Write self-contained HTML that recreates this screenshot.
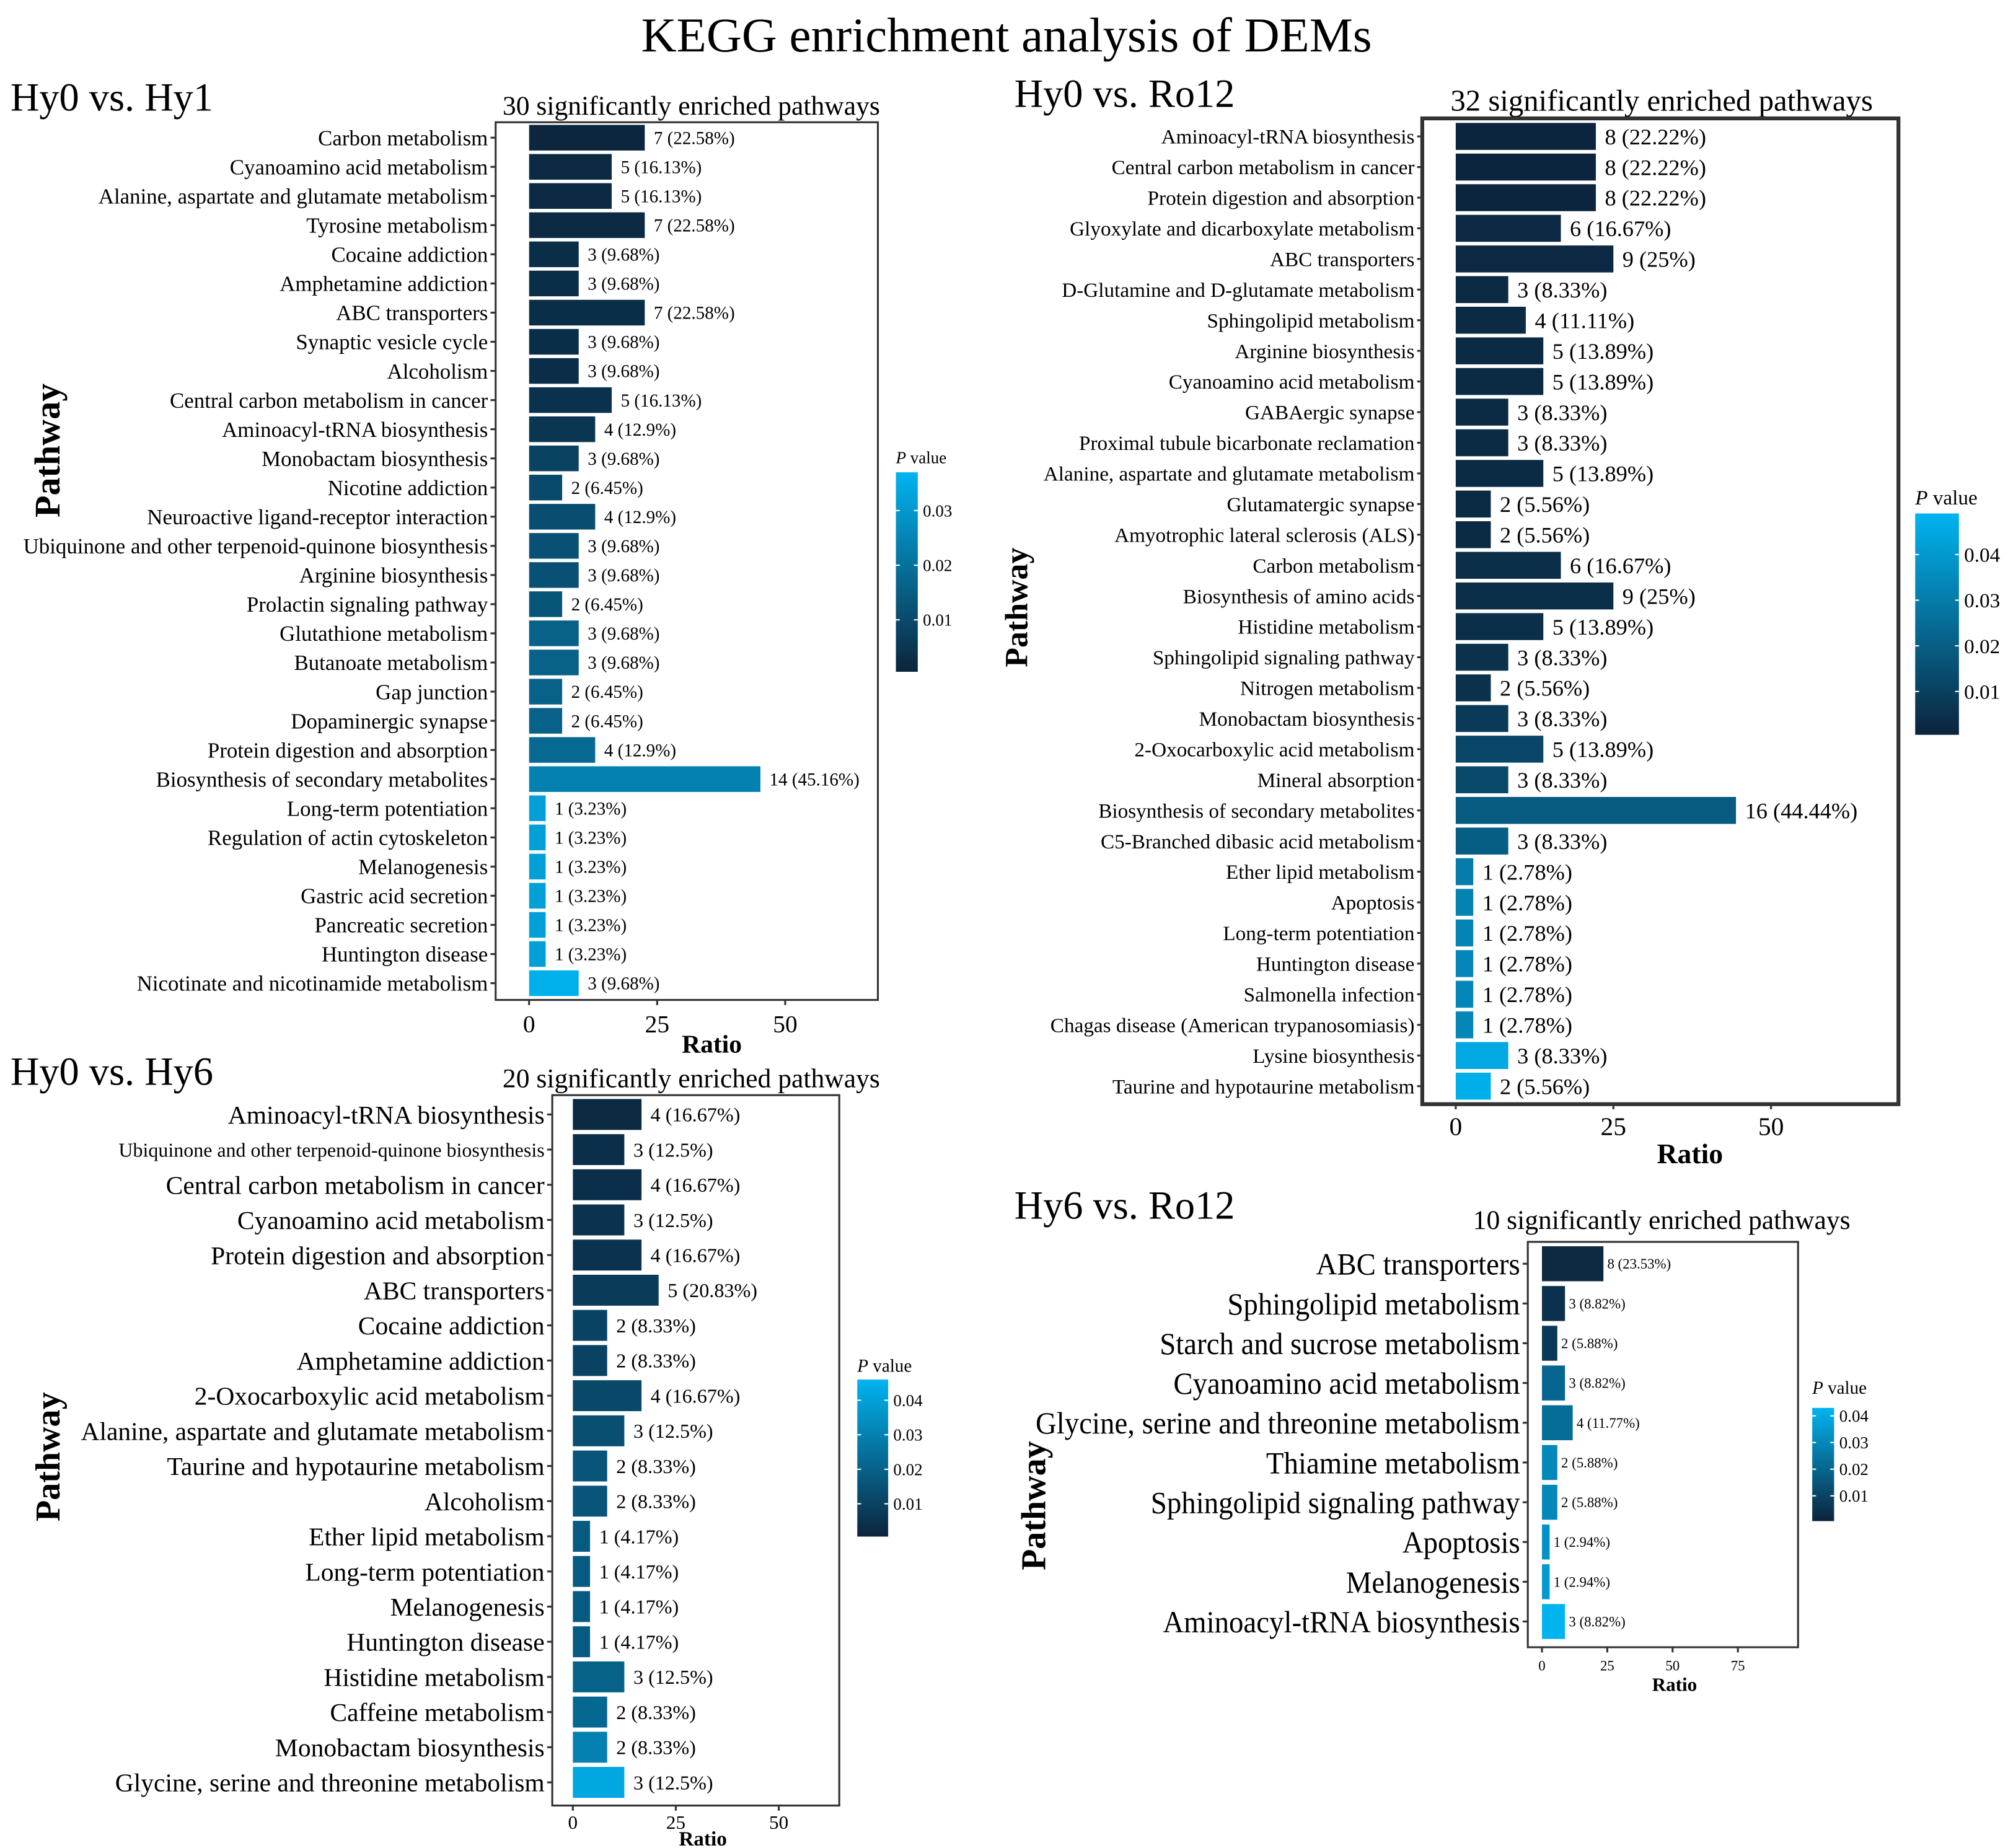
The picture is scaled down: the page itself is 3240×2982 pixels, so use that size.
<!DOCTYPE html>
<html><head><meta charset="utf-8"><style>
body{margin:0;background:#fff}
svg{display:block;font-family:"Liberation Serif",serif}
</style></head><body>
<svg id="fig" width="3240" height="2982" viewBox="0 0 1560 1436" xmlns="http://www.w3.org/2000/svg">
<rect width="1560" height="1436" fill="#fff"/>
<text x="782" y="40" font-size="38" text-anchor="middle">KEGG enrichment analysis of DEMs</text>
</svg>
<script>
const p1Labels=["Carbon metabolism","Cyanoamino acid metabolism","Alanine, aspartate and glutamate metabolism","Tyrosine metabolism","Cocaine addiction","Amphetamine addiction","ABC transporters","Synaptic vesicle cycle","Alcoholism","Central carbon metabolism in cancer","Aminoacyl-tRNA biosynthesis","Monobactam biosynthesis","Nicotine addiction","Neuroactive ligand-receptor interaction","Ubiquinone and other terpenoid-quinone biosynthesis","Arginine biosynthesis","Prolactin signaling pathway","Glutathione metabolism","Butanoate metabolism","Gap junction","Dopaminergic synapse","Protein digestion and absorption","Biosynthesis of secondary metabolites","Long-term potentiation","Regulation of actin cytoskeleton","Melanogenesis","Gastric acid secretion","Pancreatic secretion","Huntington disease","Nicotinate and nicotinamide metabolism"];
const p1Counts=[7,5,5,7,3,3,7,3,3,5,4,3,2,4,3,3,2,3,3,2,2,4,14,1,1,1,1,1,1,3];
const p1Ratios=[22.58,16.13,16.13,22.58,9.68,9.68,22.58,9.68,9.68,16.13,12.9,9.68,6.45,12.9,9.68,9.68,6.45,9.68,9.68,6.45,6.45,12.9,45.16,3.23,3.23,3.23,3.23,3.23,3.23,9.68];
const p1P=[0.001,0.002,0.002,0.002,0.003,0.003,0.003,0.003,0.003,0.004,0.005,0.008,0.010,0.011,0.012,0.012,0.013,0.016,0.016,0.016,0.016,0.018,0.024,0.032,0.032,0.032,0.032,0.032,0.032,0.036];
const p1Ticks=[0,25,50];
const p1Legend=[0.01,0.02,0.03];

const p2Labels=["Aminoacyl-tRNA biosynthesis","Central carbon metabolism in cancer","Protein digestion and absorption","Glyoxylate and dicarboxylate metabolism","ABC transporters","D-Glutamine and D-glutamate metabolism","Sphingolipid metabolism","Arginine biosynthesis","Cyanoamino acid metabolism","GABAergic synapse","Proximal tubule bicarbonate reclamation","Alanine, aspartate and glutamate metabolism","Glutamatergic synapse","Amyotrophic lateral sclerosis (ALS)","Carbon metabolism","Biosynthesis of amino acids","Histidine metabolism","Sphingolipid signaling pathway","Nitrogen metabolism","Monobactam biosynthesis","2-Oxocarboxylic acid metabolism","Mineral absorption","Biosynthesis of secondary metabolites","C5-Branched dibasic acid metabolism","Ether lipid metabolism","Apoptosis","Long-term potentiation","Huntington disease","Salmonella infection","Chagas disease (American trypanosomiasis)","Lysine biosynthesis","Taurine and hypotaurine metabolism"];
const p2Counts=[8,8,8,6,9,3,4,5,5,3,3,5,2,2,6,9,5,3,2,3,5,3,16,3,1,1,1,1,1,1,3,2];
const p2Ratios=[22.22,22.22,22.22,16.67,25,8.33,11.11,13.89,13.89,8.33,8.33,13.89,5.56,5.56,16.67,25,13.89,8.33,5.56,8.33,13.89,8.33,44.44,8.33,2.78,2.78,2.78,2.78,2.78,2.78,8.33,5.56];
const p2P=[0.001,0.001,0.001,0.002,0.002,0.003,0.003,0.003,0.003,0.003,0.003,0.003,0.003,0.003,0.004,0.004,0.004,0.005,0.005,0.008,0.012,0.013,0.019,0.020,0.030,0.032,0.033,0.034,0.034,0.034,0.045,0.047];
const p2Ticks=[0,25,50];
const p2Legend=[0.01,0.02,0.03,0.04];

const p3Labels=["Aminoacyl-tRNA biosynthesis","Ubiquinone and other terpenoid-quinone biosynthesis","Central carbon metabolism in cancer","Cyanoamino acid metabolism","Protein digestion and absorption","ABC transporters","Cocaine addiction","Amphetamine addiction","2-Oxocarboxylic acid metabolism","Alanine, aspartate and glutamate metabolism","Taurine and hypotaurine metabolism","Alcoholism","Ether lipid metabolism","Long-term potentiation","Melanogenesis","Huntington  disease","Histidine metabolism","Caffeine metabolism","Monobactam biosynthesis","Glycine, serine and threonine metabolism"];
const p3Counts=[4,3,4,3,4,5,2,2,4,3,2,2,1,1,1,1,3,2,2,3];
const p3Ratios=[16.67,12.5,16.67,12.5,16.67,20.83,8.33,8.33,16.67,12.5,8.33,8.33,4.17,4.17,4.17,4.17,12.5,8.33,8.33,12.5];
const p3P=[0.002,0.004,0.004,0.005,0.005,0.008,0.010,0.010,0.012,0.014,0.016,0.016,0.018,0.018,0.018,0.018,0.020,0.022,0.030,0.042];
const p3Ticks=[0,25,50];
const p3Legend=[0.01,0.02,0.03,0.04];

const p4Labels=["ABC transporters","Sphingolipid metabolism","Starch and sucrose metabolism","Cyanoamino acid metabolism","Glycine, serine and threonine metabolism","Thiamine metabolism","Sphingolipid signaling pathway","Apoptosis","Melanogenesis","Aminoacyl-tRNA biosynthesis"];
const p4Counts=[8,3,2,3,4,2,2,1,1,3];
const p4Ratios=[23.53,8.82,5.88,8.82,11.77,5.88,5.88,2.94,2.94,8.82];
const p4P=[0.002,0.004,0.007,0.020,0.022,0.030,0.030,0.033,0.035,0.043];
const p4Ticks=[0,25,50,75];
const p4Legend=[0.01,0.02,0.03,0.04];

const NS="http://www.w3.org/2000/svg";
const svg=document.getElementById('fig');
function mk(tag,attrs,parent,text){const e=document.createElementNS(NS,tag);for(const k in attrs)e.setAttribute(k,attrs[k]);if(text!==undefined)e.textContent=text;(parent||svg).appendChild(e);return e;}
const LOW=[12,36,60],HIGH=[0,180,240];
function col(p,pmin,pmax){let t=(p-pmin)/(pmax-pmin);t=Math.max(0,Math.min(1,t));const c=LOW.map((v,i)=>Math.round(v+(HIGH[i]-v)*t));return `rgb(${c[0]},${c[1]},${c[2]})`;}

function panel(c){
  const g=mk('g',{});
  
  
  const t=mk('text',{x:c.titleX,y:c.titleY,'font-size':31},g,c.title);
  
  
  const st=mk('text',{x:c.subX,y:c.subY,'font-size':c.subSize,'text-anchor':'middle'},g,c.sub);
  
  
  const xs=v=>c.x0+v*c.kx;
  const n=c.labels.length;
  const ys=i=>c.yFirst+i*(c.yLast-c.yFirst)/(n-1);
  const step=(c.yLast-c.yFirst)/(n-1);
  const bh=step*0.88;
  c.ratios.forEach((r,i)=>{
    const b=mk('rect',{x:c.x0,y:ys(i)-bh/2,width:xs(r)-c.x0,height:bh,fill:col(c.p[i],c.pmin,c.pmax)},g);
    
    
    const vl=mk('text',{x:xs(r)+c.valGap,y:ys(i)+c.valSize*0.35,'font-size':c.valSize},g,c.counts[i]+' ('+r+'%)');
    
    
    let fs=c.labSize;
    if(c.smallIdx!==undefined&&c.smallIdx===i)fs=c.labSize*0.77;
    const lbl=mk('text',{'font-size':fs,'text-anchor':'end',transform:`translate(${c.boxX-6},${ys(i)+fs*0.35}) scale(${c.condense},1)`},g,c.labels[i]);
    
    
    const tk=mk('line',{x1:c.boxX-4,x2:c.boxX,y1:ys(i),y2:ys(i),stroke:'#333','stroke-width':1.5},g);
    
    
  });
  const box=mk('rect',{x:c.boxX,y:c.boxY,width:c.boxW,height:c.boxH,fill:'none',stroke:'#333','stroke-width':c.boxStroke},g);
  
  
  c.ticks.forEach(v=>{
    const l=mk('line',{x1:xs(v),x2:xs(v),y1:c.boxY+c.boxH,y2:c.boxY+c.boxH+4,stroke:'#333','stroke-width':1.5},g);
    
    
    const tl=mk('text',{x:xs(v),y:c.tickY,'font-size':c.tickSize,'text-anchor':'middle'},g,String(v));
    
    
  });
  const xt=mk('text',{x:c.ratioX,y:c.ratioY,'font-size':c.ratioSize,'font-weight':'bold','text-anchor':'middle'},g,'Ratio');
  
  
  const yt=mk('text',{transform:`translate(${c.pwX},${c.pwY}) rotate(-90)`,'font-size':c.pwSize,'font-weight':'bold','text-anchor':'middle'},g,'Pathway');
  
  
  const lg=mk('g',{},g);
  
  
  const gid='grad-'+c.id;
  const defs=mk('defs',{},lg);
  const gr=mk('linearGradient',{id:gid,x1:0,y1:1,x2:0,y2:0},defs);
  mk('stop',{offset:0,'stop-color':col(c.pmin,c.pmin,c.pmax)},gr);
  mk('stop',{offset:1,'stop-color':col(c.pmax,c.pmin,c.pmax)},gr);
  const lt=mk('text',{x:c.legX,y:c.legTitleY,'font-size':c.legTitleSize},lg);
  mk('tspan',{'font-style':'italic'},lt,'P');
  mk('tspan',{},lt,' value');
  
  
  const ly=p=>c.legBot-(p-c.pmin)/(c.pmax-c.pmin)*(c.legBot-c.legTop);
  const cb=mk('rect',{x:c.legX,y:c.legTop,width:c.legW,height:c.legBot-c.legTop,fill:`url(#${gid})`},lg);
  
  
  c.legend.forEach(v=>{
    mk('line',{x1:c.legX,x2:c.legX+3,y1:ly(v),y2:ly(v),stroke:'#fff','stroke-width':1},lg);
    mk('line',{x1:c.legX+c.legW-3,x2:c.legX+c.legW,y1:ly(v),y2:ly(v),stroke:'#fff','stroke-width':1},lg);
    const tl=mk('text',{x:c.legX+c.legW+4,y:ly(v)+c.legTickSize*0.35,'font-size':c.legTickSize},lg,String(v));
    
    
  });
}

panel({id:'panel-hy0-vs-hy1',title:'Hy0 vs. Hy1',titleX:8,titleY:86,sub:'30 significantly enriched pathways',subX:537,subY:89,subSize:21,
labels:p1Labels,counts:p1Counts,ratios:p1Ratios,p:p1P,ticks:p1Ticks,legend:p1Legend,
x0:411,kx:3.98,yFirst:107,yLast:764,boxX:385,boxY:95,boxW:297,boxH:682,boxStroke:1.5,
valGap:7,valSize:14,labSize:16.8,condense:1,tickY:802,tickSize:19,ratioX:553,ratioY:818,ratioSize:20,
pwX:46,pwY:350,pwSize:28,pmin:0.0005,pmax:0.037,legX:696,legTop:367,legBot:522,legW:17,legTitleY:360,legTitleSize:13,legTickSize:13});

panel({id:'panel-hy0-vs-ro12',title:'Hy0 vs. Ro12',titleX:788,titleY:83,sub:'32 significantly enriched pathways',subX:1291,subY:86,subSize:23.5,
labels:p2Labels,counts:p2Counts,ratios:p2Ratios,p:p2P,ticks:p2Ticks,legend:p2Legend,
x0:1131,kx:4.9,yFirst:106,yLast:844,boxX:1105,boxY:92,boxW:370,boxH:766,boxStroke:3,
valGap:7,valSize:17.5,labSize:16,condense:1,tickY:882,tickSize:20,ratioX:1313,ratioY:904,ratioSize:22,
pwX:798,pwY:472,pwSize:25,pmin:0.0005,pmax:0.049,legX:1488,legTop:399,legBot:571,legW:34,legTitleY:392,legTitleSize:16,legTickSize:16});

panel({id:'panel-hy0-vs-hy6',title:'Hy0 vs. Hy6',titleX:8,titleY:843,sub:'20 significantly enriched pathways',subX:537,subY:845,subSize:21,
labels:p3Labels,counts:p3Counts,ratios:p3Ratios,p:p3P,ticks:p3Ticks,legend:p3Legend,smallIdx:1,
x0:445,kx:3.2,yFirst:866,yLast:1385,boxX:429,boxY:851,boxW:223,boxH:552,boxStroke:1.5,
valGap:7,valSize:15.5,labSize:20,condense:1,tickY:1421,tickSize:15,ratioX:546,ratioY:1434,ratioSize:16,
pwX:46,pwY:1132,pwSize:27,pmin:0.0005,pmax:0.046,legX:666,legTop:1072,legBot:1194,legW:24,legTitleY:1066,legTitleSize:14,legTickSize:13});

panel({id:'panel-hy6-vs-ro12',title:'Hy6 vs. Ro12',titleX:788,titleY:947,sub:'10 significantly enriched pathways',subX:1291,subY:955,subSize:21,
labels:p4Labels,counts:p4Counts,ratios:p4Ratios,p:p4P,ticks:p4Ticks,legend:p4Legend,
x0:1198,kx:2.03,yFirst:982,yLast:1260,boxX:1187,boxY:965,boxW:210,boxH:315,boxStroke:1.5,
valGap:3,valSize:11,labSize:24,condense:0.94,tickY:1298,tickSize:11,ratioX:1301,ratioY:1314,ratioSize:15,
pwX:812,pwY:1170,pwSize:27,pmin:0.0005,pmax:0.043,legX:1408,legTop:1094,legBot:1182,legW:17,legTitleY:1083,legTitleSize:14,legTickSize:13});
</script>
</body></html>
